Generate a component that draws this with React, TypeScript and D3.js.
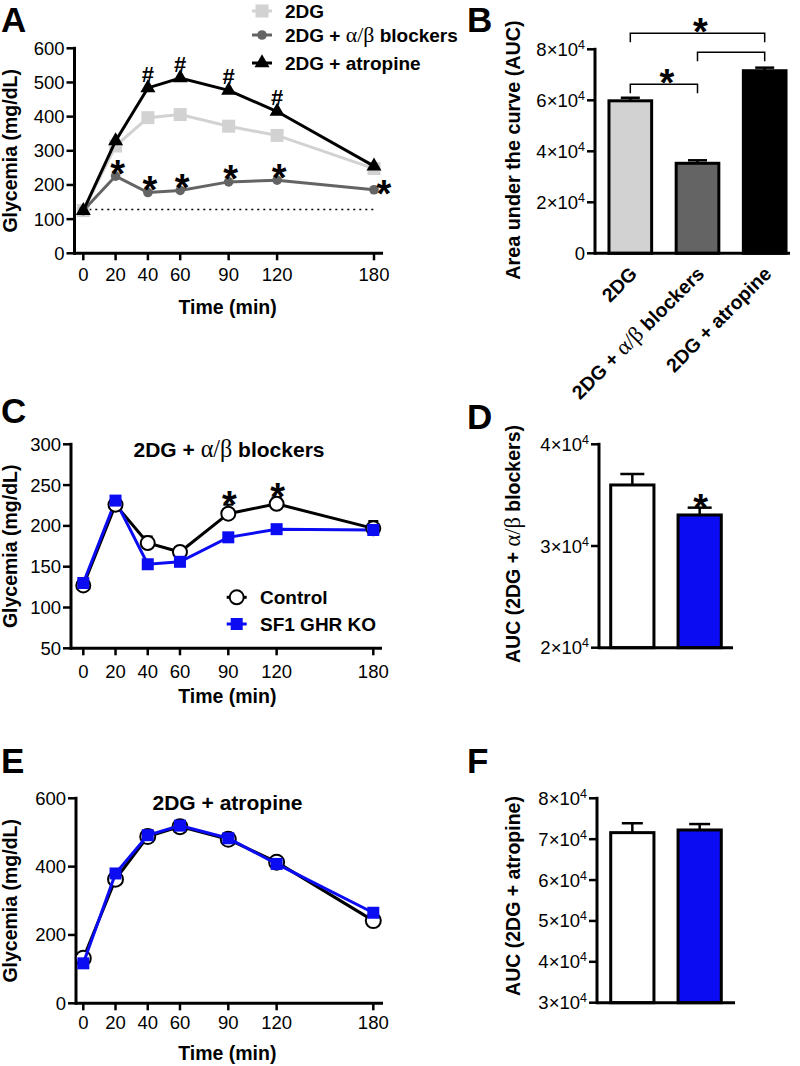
import React from "react";
import * as d3 from "d3";

const FONT = "'Liberation Sans', Arial, Helvetica, sans-serif";
const SERIF = "'Liberation Serif', 'DejaVu Serif', 'Times New Roman', serif";

// ---------------- data ----------------
const timePoints = [0, 20, 40, 60, 90, 120, 180];

// Panel A
const aSeriesNames = ["2DG", "2DG + α/β blockers", "2DG + atropine"];
const a2DG = [125, 314, 397, 406, 372, 345, 248];
const aAlphaBeta = [125, 226, 178, 184, 209, 214, 186];
const aAtropine = [125, 329, 484, 513, 477, 415, 255];
const aBaseline = 128;
const aYTicks = [0, 100, 200, 300, 400, 500, 600];
const aStarTimes = [20, 40, 60, 90, 120, 180];
const aHashTimes = [40, 60, 90, 120];

// Panel B
const bCategories = ["2DG", "2DG + α/β blockers", "2DG + atropine"];
const bValues = [59800, 35300, 71600];
const bErrors = [1200, 1170, 1200];
const bYTicks = [0, 20000, 40000, 60000, 80000];
const bCompFrom = [0, 1, 0];
const bCompTo = [1, 2, 2];
const bCompLevel = [66300, 78800, 86300];
const bCompLabel = ["*", "", "*"];

// Panel C
const cTitle = "2DG + α/β blockers";
const cControl = [127, 226, 179, 168, 215, 227, 197];
const cControlErr = [3, 4, 8, 3, 11, 8, 9];
const cKO = [130, 231, 153, 156, 186, 196, 195];
const cYTicks = [50, 100, 150, 200, 250, 300];
const cStarTimes = [90, 120];
const groupNames = ["Control", "SF1 GHR KO"];

// Panel D
const dValues = [36000, 33050];
const dErrors = [1080, 720];
const dYTicks = [20000, 30000, 40000];

// Panel E
const eTitle = "2DG + atropine";
const eControl = [132, 363, 488, 517, 480, 413, 242];
const eKO = [117, 380, 492, 520, 483, 408, 265];
const eYTicks = [0, 200, 400, 600];

// Panel F
const fValues = [71600, 72250];
const fErrors = [2300, 1450];
const fYTicks = [30000, 40000, 50000, 60000, 70000, 80000];

// ---------------- colours ----------------
const LIGHT = "#d2d2d2";
const DARK = "#646464";
const BLUE = "#0c0cf2";

// ---------------- helpers ----------------
function Greek({ text }: { text: string }) {
  const parts = text.split("α/β");
  return (
    <>
      {parts.map((p, i) => (
        <React.Fragment key={i}>
          {p}
          {i < parts.length - 1 && (
            <tspan fontFamily={SERIF} fontWeight="normal" fontSize="1.15em">α/β</tspan>
          )}
        </React.Fragment>
      ))}
    </>
  );
}

function expLabel(v: number) {
  if (v === 0) return <>0</>;
  const e = Math.floor(Math.log10(v));
  const m = Math.round(v / Math.pow(10, e));
  return (
    <>
      {m}×10<tspan dy={-7} fontSize={12.5}>{e}</tspan>
    </>
  );
}

function YAxis({ x, scale, ticks, fmt }: any) {
  const [d0, d1] = scale.domain();
  return (
    <g>
      <line x1={x} x2={x} y1={scale(d1)} y2={scale(d0)} stroke="#000" strokeWidth={3} strokeLinecap="square" />
      {ticks.map((t: number) => (
        <g key={t}>
          <line x1={x - 8} x2={x} y1={scale(t)} y2={scale(t)} stroke="#000" strokeWidth={2.5} />
          <text x={x - 10} y={scale(t) + 6.5} textAnchor="end" fontSize={18.5} fontFamily={FONT}>
            {fmt(t)}
          </text>
        </g>
      ))}
    </g>
  );
}

function TimeAxis({ xScale, y, axisX, xEnd, labelDy, titleDy }: any) {
  return (
    <g>
      <line x1={axisX} x2={xEnd} y1={y} y2={y} stroke="#000" strokeWidth={3} />
      {timePoints.map((t) => (
        <g key={t}>
          <line x1={xScale(t)} x2={xScale(t)} y1={y} y2={y + 7} stroke="#000" strokeWidth={2.5} />
          <text x={xScale(t)} y={y + labelDy} textAnchor="middle" fontSize={18.5} fontFamily={FONT}>
            {t}
          </text>
        </g>
      ))}
      <text x={(xScale(0) + xScale(180)) / 2 - 1} y={y + titleDy} textAnchor="middle" fontSize={19.5} fontWeight="bold" fontFamily={FONT}>
        Time (min)
      </text>
    </g>
  );
}

function YTitle({ x, y, children, size = 19.5 }: any) {
  return (
    <text transform={`translate(${x},${y}) rotate(-90)`} textAnchor="middle" fontSize={size} fontWeight="bold" fontFamily={FONT}>
      {children}
    </text>
  );
}

function PanelLetter({ x, y, l }: any) {
  return (
    <text x={x} y={y} fontSize={35} fontWeight="bold" fontFamily={FONT}>
      {l}
    </text>
  );
}

function Star({ cx, cy, size = 38 }: any) {
  return (
    <text x={cx} y={cy + size * 0.58} textAnchor="middle" fontSize={size} fontWeight="bold" fontFamily={FONT}>
      *
    </text>
  );
}

function Hash({ cx, cy, size = 22 }: any) {
  return (
    <text x={cx} y={cy + size * 0.36} textAnchor="middle" fontSize={size} fontWeight="bold" fontFamily={FONT}>
      #
    </text>
  );
}

function Triangle({ cx, cy, w = 15, h = 13, fill = "#000" }: any) {
  const p = `${cx},${cy - (2 * h) / 3} ${cx + w / 2},${cy + h / 3} ${cx - w / 2},${cy + h / 3}`;
  return <polygon points={p} fill={fill} />;
}

function Square({ cx, cy, s, fill }: any) {
  return <rect x={cx - s / 2} y={cy - s / 2} width={s} height={s} fill={fill} />;
}

function makeLine(x: any, y: any) {
  return d3
    .line<number>()
    .x((_, i) => x(timePoints[i]))
    .y((d) => y(d));
}

function Bars({ band, cats, values, errors, y, fills, capW }: any) {
  const y0 = y(y.domain()[0]);
  return (
    <g>
      {cats.map((c: string, i: number) => {
        const x0 = band(c);
        const bw = band.bandwidth();
        const cx = x0 + bw / 2;
        const top = y(values[i]);
        const et = y(values[i] + errors[i]);
        return (
          <g key={c}>
            <line x1={cx} x2={cx} y1={top} y2={et} stroke="#000" strokeWidth={2.5} />
            <line x1={cx - capW / 2} x2={cx + capW / 2} y1={et} y2={et} stroke="#000" strokeWidth={2.5} />
            <rect x={x0} y={top} width={bw} height={y0 - top} fill={fills[i]} stroke="#000" strokeWidth={3} />
          </g>
        );
      })}
    </g>
  );
}

export default function App() {
  // ---------- Panel A ----------
  const xA = d3.scaleLinear().domain([0, 180]).range([83.3, 374]);
  const yA = d3.scaleLinear().domain([0, 600]).range([253.3, 48.3]);
  const lineA = makeLine(xA, yA);

  // ---------- Panel B ----------
  const bandB = d3.scaleBand<string>().domain(bCategories).range([595, 800]).paddingInner(0.365).paddingOuter(0.208);
  const yB = d3.scaleLinear().domain([0, 80000]).range([253.3, 49.3]);
  const bCx = (i: number) => (bandB(bCategories[i]) as number) + bandB.bandwidth() / 2;

  // ---------- Panel C ----------
  const xC = d3.scaleLinear().domain([0, 180]).range([83.3, 373.3]);
  const yC = d3.scaleLinear().domain([50, 300]).range([648.3, 444.3]);
  const lineC = makeLine(xC, yC);

  // ---------- Panel D / F ----------
  const bandDF = d3.scaleBand<string>().domain(groupNames).range([599, 733]).paddingInner(0.358).paddingOuter(0.174);
  const yD = d3.scaleLinear().domain([20000, 40000]).range([647.7, 444.3]);
  const yF = d3.scaleLinear().domain([30000, 80000]).range([1002.7, 798.3]);

  // ---------- Panel E ----------
  const xE = d3.scaleLinear().domain([0, 180]).range([83.3, 373.3]);
  const yE = d3.scaleLinear().domain([0, 600]).range([1003.3, 798.3]);
  const lineE = makeLine(xE, yE);

  return (
    <svg width={800} height={1066} style={{ position: "absolute", left: 0, top: 0, background: "#fff" }} fontFamily={FONT}>
      <rect width={800} height={1066} fill="#fff" />

      {/* ================= A ================= */}
      <PanelLetter x={1} y={32} l="A" />
      <line x1={xA(0)} x2={xA(180)} y1={yA(aBaseline)} y2={yA(aBaseline)} stroke="#000" strokeWidth={1.5} strokeDasharray="2,4" />
      <YAxis x={74.5} scale={yA} ticks={aYTicks} fmt={(t: number) => t} />
      <TimeAxis xScale={xA} y={253.3} axisX={74.5} xEnd={383} labelDy={28} titleDy={61} />
      <YTitle x={17} y={150.8}>Glycemia (mg/dL)</YTitle>

      <path d={lineA(a2DG) as string} fill="none" stroke={LIGHT} strokeWidth={3} />
      {a2DG.map((v, i) => (
        <Square key={i} cx={xA(timePoints[i])} cy={yA(v)} s={13} fill={LIGHT} />
      ))}
      <path d={lineA(aAlphaBeta) as string} fill="none" stroke={DARK} strokeWidth={3} />
      {aAlphaBeta.map((v, i) => (
        <circle key={i} cx={xA(timePoints[i])} cy={yA(v)} r={4.8} fill={DARK} />
      ))}
      <path d={lineA(aAtropine) as string} fill="none" stroke="#000" strokeWidth={3} />
      {aAtropine.map((v, i) => (
        <Triangle key={i} cx={xA(timePoints[i])} cy={yA(v)} />
      ))}
      {aStarTimes.map((t) => {
        const i = timePoints.indexOf(t);
        const last = t === 180;
        return <Star key={t} cx={xA(t) + (last ? 10 : 2)} cy={yA(aAlphaBeta[i]) - (last ? 5 : 11.5)} />;
      })}
      {aHashTimes.map((t) => {
        const i = timePoints.indexOf(t);
        return <Hash key={t} cx={xA(t)} cy={yA(aAtropine[i]) - 14} />;
      })}

      {/* legend A */}
      {aSeriesNames.map((n, i) => {
        const cy = [11, 35, 63][i];
        return (
          <g key={n}>
            <line x1={252} x2={272} y1={cy} y2={cy} stroke={[LIGHT, DARK, "#000"][i]} strokeWidth={3} />
            {i === 0 && <Square cx={262} cy={cy} s={13} fill={LIGHT} />}
            {i === 1 && <circle cx={262} cy={cy} r={4.8} fill={DARK} />}
            {i === 2 && <Triangle cx={262} cy={cy} />}
            <text x={285} y={cy + 6.5} fontSize={19} fontWeight="bold">
              <Greek text={n} />
            </text>
          </g>
        );
      })}

      {/* ================= B ================= */}
      <PanelLetter x={467} y={32} l="B" />
      <YAxis x={595} scale={yB} ticks={bYTicks} fmt={expLabel} />
      <Bars band={bandB} cats={bCategories} values={bValues} errors={bErrors} y={yB} fills={[LIGHT, DARK, "#000"]} capW={19} />
      <line x1={595} x2={790} y1={253.3} y2={253.3} stroke="#000" strokeWidth={3} />
      {bCategories.map((c, i) => (
        <text key={c} transform={`translate(${bCx(i) + 8},${275}) rotate(-45)`} textAnchor="end" fontSize={19.5} fontWeight="bold">
          <Greek text={c} />
        </text>
      ))}
      <YTitle x={520} y={150} size={19.8}>Area under the curve (AUC)</YTitle>
      {bCompFrom.map((f, k) => {
        const x1 = bCx(f);
        const x2 = bCx(bCompTo[k]);
        const yt = yB(bCompLevel[k]);
        return (
          <g key={k}>
            <path d={`M${x1},${yt + 9}V${yt}H${x2}V${yt + 9}`} fill="none" stroke="#000" strokeWidth={1.5} />
            {bCompLabel[k] && <Star cx={(x1 + x2) / 2 + 3} cy={yt - 10} />}
          </g>
        );
      })}

      {/* ================= C ================= */}
      <PanelLetter x={1} y={423} l="C" />
      <YAxis x={71} scale={yC} ticks={cYTicks} fmt={(t: number) => t} />
      <TimeAxis xScale={xC} y={648.3} axisX={71} xEnd={382} labelDy={30} titleDy={55} />
      <YTitle x={17} y={546.3}>Glycemia (mg/dL)</YTitle>
      <text x={229} y={457} textAnchor="middle" fontSize={21} fontWeight="bold">
        <Greek text={cTitle} />
      </text>
      {cControl.map((v, i) => {
        const cx = xC(timePoints[i]);
        const et = yC(v + cControlErr[i]);
        return (
          <g key={i}>
            <line x1={cx} x2={cx} y1={yC(v)} y2={et} stroke="#000" strokeWidth={2} />
            <line x1={cx - 5} x2={cx + 5} y1={et} y2={et} stroke="#000" strokeWidth={2} />
          </g>
        );
      })}
      <path d={lineC(cControl) as string} fill="none" stroke="#000" strokeWidth={3} />
      <path d={lineC(cKO) as string} fill="none" stroke={BLUE} strokeWidth={3} />
      {cControl.map((v, i) => (
        <circle key={i} cx={xC(timePoints[i])} cy={yC(v)} r={7} fill="#fff" stroke="#000" strokeWidth={2} />
      ))}
      {cKO.map((v, i) => (
        <Square key={i} cx={xC(timePoints[i])} cy={yC(v)} s={12} fill={BLUE} />
      ))}
      {cStarTimes.map((t) => {
        const i = timePoints.indexOf(t);
        return <Star key={t} cx={xC(t) + 1} cy={yC(cControl[i] + cControlErr[i]) - 9} />;
      })}
      {/* legend C */}
      {groupNames.map((n, i) => {
        const cy = [597.3, 624][i];
        return (
          <g key={n}>
            <line x1={226.7} x2={246.7} y1={cy} y2={cy} stroke={i === 0 ? "#000" : BLUE} strokeWidth={3} />
            {i === 0 ? (
              <circle cx={236.7} cy={cy} r={7} fill="#fff" stroke="#000" strokeWidth={2} />
            ) : (
              <Square cx={236.7} cy={cy} s={12} fill={BLUE} />
            )}
            <text x={260} y={cy + 6.8} fontSize={19} fontWeight="bold">
              {n}
            </text>
          </g>
        );
      })}

      {/* ================= D ================= */}
      <PanelLetter x={467} y={429} l="D" />
      <YAxis x={599} scale={yD} ticks={dYTicks} fmt={expLabel} />
      <Bars band={bandDF} cats={groupNames} values={dValues} errors={dErrors} y={yD} fills={["#fff", BLUE]} capW={24} />
      <line x1={599} x2={733} y1={647.7} y2={647.7} stroke="#000" strokeWidth={3} />
      <Star cx={(bandDF(groupNames[1]) as number) + bandDF.bandwidth() / 2 + 1} cy={yD(dValues[1] + dErrors[1]) - 9} />
      <YTitle x={520} y={544}>
        <Greek text="AUC (2DG + α/β blockers)" />
      </YTitle>

      {/* ================= E ================= */}
      <PanelLetter x={1} y={773} l="E" />
      <YAxis x={76} scale={yE} ticks={eYTicks} fmt={(t: number) => t} />
      <TimeAxis xScale={xE} y={1003.3} axisX={76} xEnd={383} labelDy={26} titleDy={57} />
      <YTitle x={17} y={900.8}>Glycemia (mg/dL)</YTitle>
      <text x={227.5} y={810} textAnchor="middle" fontSize={21} fontWeight="bold">
        {eTitle}
      </text>
      <path d={lineE(eControl) as string} fill="none" stroke="#000" strokeWidth={3} />
      {eControl.map((v, i) => (
        <circle key={i} cx={xE(timePoints[i])} cy={yE(v)} r={7.5} fill="#fff" stroke="#000" strokeWidth={2} />
      ))}
      <path d={lineE(eKO) as string} fill="none" stroke={BLUE} strokeWidth={3} />
      {eKO.map((v, i) => (
        <Square key={i} cx={xE(timePoints[i])} cy={yE(v)} s={12} fill={BLUE} />
      ))}

      {/* ================= F ================= */}
      <PanelLetter x={467} y={773} l="F" />
      <YAxis x={597} scale={yF} ticks={fYTicks} fmt={expLabel} />
      <Bars band={bandDF} cats={groupNames} values={fValues} errors={fErrors} y={yF} fills={["#fff", BLUE]} capW={21} />
      <line x1={597} x2={735} y1={1002.7} y2={1002.7} stroke="#000" strokeWidth={3} />
      <YTitle x={520} y={896}>AUC (2DG + atropine)</YTitle>
    </svg>
  );
}
